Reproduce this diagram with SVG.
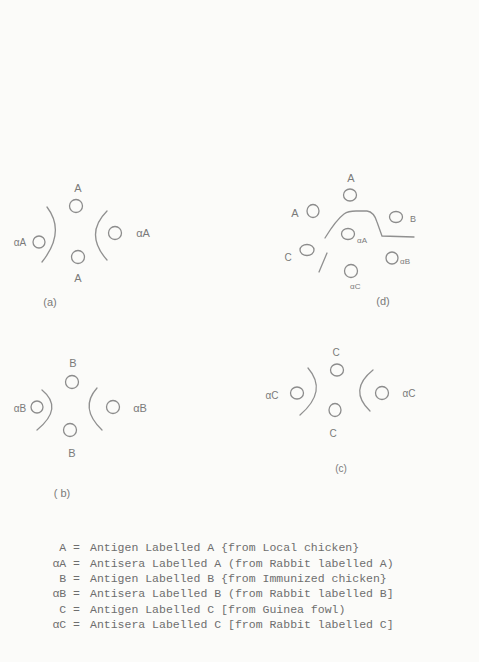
<svg xmlns="http://www.w3.org/2000/svg" width="479" height="662" viewBox="0 0 479 662">
<style>
.w{fill:none;stroke:#8c8c8c;stroke-width:1.3}
.ln{fill:none;stroke:#909090;stroke-width:1.3;stroke-linecap:round}
.h{font-family:"Liberation Sans",Arial,sans-serif;font-size:11px;fill:#7a7a7a;text-anchor:middle}
.s{font-family:"Liberation Sans",Arial,sans-serif;font-size:8px;fill:#7a7a7a;text-anchor:start}
.t{font-family:"Liberation Mono","Courier New",monospace;font-size:11.5px;fill:#6e6e6e}
.k{font-family:"Liberation Mono","Courier New",monospace;font-size:11.5px;fill:#6e6e6e;text-anchor:end}
</style>
<rect width="479" height="662" fill="#fbfbf9"/>

<g id="panel-a">
  <text class="h" x="78" y="192">A</text>
  <circle class="w" cx="76" cy="206" r="6.5"/>
  <text class="h" x="20" y="246" style="font-size:10px">αA</text>
  <circle class="w" cx="39" cy="242" r="6"/>
  <circle class="w" cx="115" cy="233" r="6.5"/>
  <text class="h" x="143" y="237">αA</text>
  <circle class="w" cx="78" cy="257" r="6.5"/>
  <text class="h" x="78" y="282">A</text>
  <text class="h" x="50" y="306">(a)</text>
</g>

<g id="panel-d">
  <text class="h" x="351" y="182">A</text>
  <ellipse class="w" cx="350" cy="195" rx="6.5" ry="6"/>
  <text class="h" x="295" y="217">A</text>
  <ellipse class="w" cx="313" cy="211" rx="6" ry="6.5"/>
  <ellipse class="w" cx="396" cy="217" rx="6.5" ry="5.5"/>
  <text class="h" x="413" y="222" style="font-size:9px">B</text>
  <ellipse class="w" cx="348" cy="234" rx="6.5" ry="5.5"/>
  <text class="s" x="357" y="243">αA</text>
  <ellipse class="w" cx="307" cy="250" rx="7" ry="5.5"/>
  <text class="h" x="288" y="261" style="font-size:10px">C</text>
  <ellipse class="w" cx="392" cy="258" rx="6" ry="6"/>
  <text class="s" x="400" y="264">αB</text>
  <ellipse class="w" cx="351" cy="271" rx="6.5" ry="6.5"/>
  <text class="s" x="350" y="289">αC</text>
  <text class="h" x="383" y="305">(d)</text>
</g>

<g id="panel-b">
  <text class="h" x="73" y="367">B</text>
  <circle class="w" cx="72" cy="382" r="6.5"/>
  <text class="h" x="20" y="412" style="font-size:10px">αB</text>
  <circle class="w" cx="37" cy="407" r="6"/>
  <circle class="w" cx="113" cy="407" r="6.5"/>
  <text class="h" x="140" y="412">αB</text>
  <circle class="w" cx="70" cy="430" r="6.5"/>
  <text class="h" x="72" y="457">B</text>
  <text class="h" x="62" y="497">( b)</text>
</g>

<g id="panel-c">
  <text class="h" x="336" y="356" style="font-size:10px">C</text>
  <ellipse class="w" cx="337" cy="370" rx="6.5" ry="6"/>
  <text class="h" x="272" y="399" style="font-size:10px">αC</text>
  <ellipse class="w" cx="297" cy="393" rx="6.5" ry="6"/>
  <ellipse class="w" cx="382" cy="393" rx="6.5" ry="6.5"/>
  <text class="h" x="409" y="397" style="font-size:10px">αC</text>
  <ellipse class="w" cx="335" cy="410" rx="6" ry="6.5"/>
  <text class="h" x="333" y="437" style="font-size:10px">C</text>
  <text class="h" x="341" y="472" style="font-size:10px">(c)</text>
</g>

<g id="precipitin-lines">
  <path class="ln" d="M47,207 Q66,232 42,262"/>
  <path class="ln" d="M107,211 Q84,234 107,260"/>
  <path class="ln" d="M42,390 Q64,408 37,430"/>
  <path class="ln" d="M97,388 Q79,408 102,430"/>
  <path class="ln" d="M308,368 Q328,391 300,415"/>
  <path class="ln" d="M373,370 Q348,390 370,411"/>
  <path class="ln" d="M325,238 Q336,220 344,214 Q348,211 356,211 L367,211 Q374,212 377,222 L382,236 L414,237"/>
  <path class="ln" d="M327,253 L319,272"/>
</g>

<g id="legend">
  <text class="k" x="80" y="551">A =</text>
  <text class="t" x="90" y="551">Antigen Labelled A {from Local chicken}</text>
  <text class="k" x="80" y="567">αA =</text>
  <text class="t" x="90" y="567">Antisera Labelled A (from Rabbit labelled A)</text>
  <text class="k" x="80" y="582">B =</text>
  <text class="t" x="90" y="582">Antigen Labelled B {from Immunized chicken}</text>
  <text class="k" x="80" y="597">αB =</text>
  <text class="t" x="90" y="597">Antisera Labelled B (from Rabbit labelled B]</text>
  <text class="k" x="80" y="613">C =</text>
  <text class="t" x="90" y="613">Antigen Labelled C [from Guinea fowl)</text>
  <text class="k" x="80" y="628">αC =</text>
  <text class="t" x="90" y="628">Antisera Labelled C [from Rabbit labelled C]</text>
</g>
</svg>
